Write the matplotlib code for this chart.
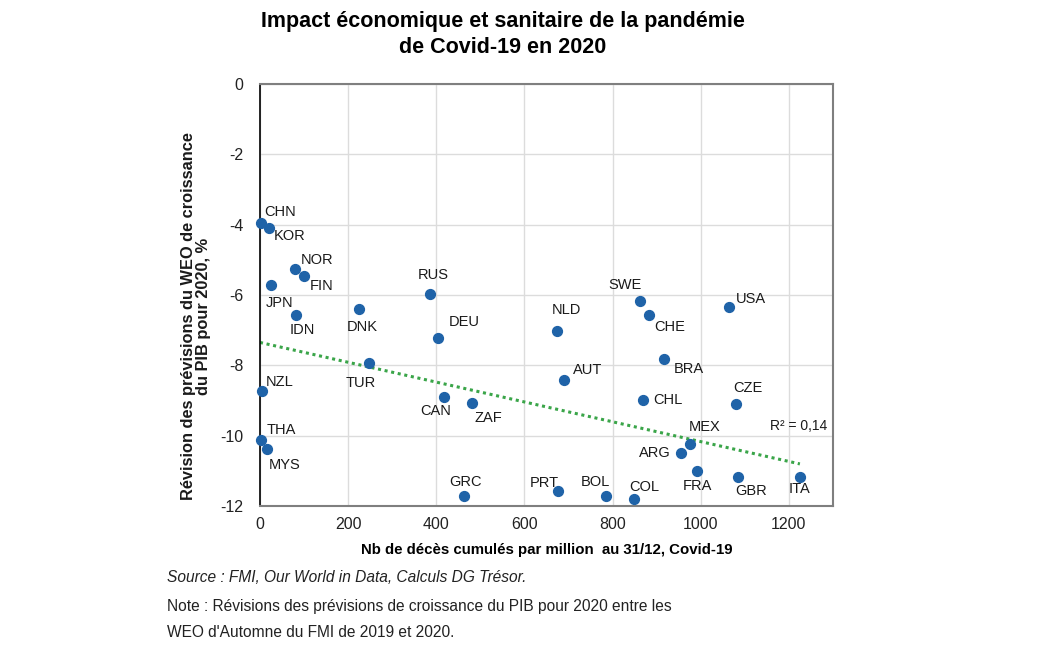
#!/usr/bin/env python3

import numpy
import matplotlib
from matplotlib import pyplot as plt

matplotlib.use('Agg')
plt.rcParams['font.family'] = ['Liberation Sans', 'DejaVu Sans']
plt.rcParams['axes.unicode_minus'] = False

countries = ['CHN', 'KOR', 'NOR', 'FIN', 'JPN', 'IDN', 'DNK', 'RUS', 'DEU', 'TUR',
             'NZL', 'CAN', 'ZAF', 'THA', 'MYS', 'GRC', 'SWE', 'CHE', 'USA', 'NLD',
             'BRA', 'AUT', 'CHL', 'CZE', 'MEX', 'ARG', 'FRA', 'GBR', 'ITA', 'PRT',
             'BOL', 'COL']
deaths_per_million = [3, 20, 80, 101, 26, 81, 225, 385, 403, 248,
                      5, 418, 480, 2, 15, 464, 863, 883, 1064, 673,
                      916, 690, 868, 1081, 975, 955, 992, 1085, 1225, 677,
                      785, 849]
gdp_revision = [-3.96, -4.10, -5.27, -5.45, -5.73, -6.57, -6.40, -5.97, -7.23, -7.94,
                -8.73, -8.90, -9.08, -10.12, -10.39, -11.71, -6.17, -6.56, -6.34, -7.02,
                -7.82, -8.41, -9.00, -9.10, -10.24, -10.48, -11.00, -11.19, -11.17, -11.57,
                -11.71, -11.80]
# linear trendline as drawn in the source chart
trend_intercept = -7.35
trend_slope = -0.00282
r2_text = 'R² = 0,14'

# label placement: offset in pixels (dx, dy up) and alignment
label_pos = {
    'CHN': (3, 11, 'left'), 'KOR': (5, -8, 'left'), 'NOR': (6, 9, 'left'),
    'FIN': (5, -10, 'left'), 'JPN': (-6, -18, 'left'), 'IDN': (-6, -15, 'left'),
    'DNK': (3, -18, 'center'), 'RUS': (4, 19, 'center'), 'DEU': (11, 16, 'left'),
    'TUR': (-9, -20, 'center'), 'NZL': (4, 9, 'left'), 'CAN': (-9, -14, 'center'),
    'ZAF': (3, -15, 'left'), 'THA': (6, 10, 'left'), 'MYS': (2, -16, 'left'),
    'GRC': (1, 14, 'center'), 'SWE': (-15, 16, 'center'), 'CHE': (5, -12, 'left'),
    'USA': (7, 8, 'left'), 'NLD': (10, 21, 'center'), 'BRA': (10, -10, 'left'),
    'AUT': (9, 10, 'left'), 'CHL': (11, 0, 'left'), 'CZE': (-3, 16, 'left'),
    'MEX': (-1, 17, 'left'), 'ARG': (-10, 0, 'right'), 'FRA': (0, -15, 'center'),
    'GBR': (13, -14, 'center'), 'ITA': (0, -12, 'center'), 'PRT': (-14, 8, 'center'),
    'BOL': (-11, 14, 'center'), 'COL': (10, 12, 'center'),
}

x = numpy.array(deaths_per_million, dtype=float)
y = numpy.array(gdp_revision, dtype=float)

fig = plt.figure(figsize=(10.5, 6.56), dpi=100)
ax = fig.add_axes([0.2476, 0.2287, 0.5457, 0.6433])

ax.set_xlim(0, 1300)
ax.set_ylim(-12, 0)
ax.set_xticks(range(0, 1201, 200))
ax.set_yticks(range(-12, 1, 2))
ax.grid(True, color='#dcdcdc', linewidth=1)
ax.set_axisbelow(True)
ax.tick_params(length=0, labelsize=11.5, colors='#222222')
ax.tick_params(axis='x', pad=8)
ax.tick_params(axis='y', pad=12)
for side in ['top', 'right', 'bottom']:
    ax.spines[side].set_color('#7f7f7f')
    ax.spines[side].set_linewidth(1.5)
ax.spines['left'].set_color('black')
ax.spines['left'].set_linewidth(1.2)

xs = numpy.array([0, x.max()])
ax.plot(xs, trend_intercept + trend_slope * xs, color='#3aa549', linestyle=(0, (1, 1.2)),
        linewidth=2.2, zorder=2)
ax.scatter(x, y, s=50, color='#1f63a8', zorder=3, clip_on=False)

for name, xv, yv in zip(countries, deaths_per_million, gdp_revision):
    dx, dy, ha = label_pos[name]
    ax.annotate(name, (xv, yv), xytext=(dx, dy), textcoords='offset pixels',
                ha=ha, va='center', fontsize=10.5, color='#1a1a1a')

ax.text(1158, -9.72, r2_text, fontsize=10, va='center', ha='left', color='#1a1a1a')

ax.set_xlabel('Nb de décès cumulés par million  au 31/12, Covid-19',
              fontsize=10.8, fontweight='bold', labelpad=8)

fig.text(0.187, 0.518, 'Révision des prévisions du WEO de croissance\ndu PIB pour 2020, %',
         rotation=90, ha='center', va='center', fontsize=11.8, fontweight='bold',
         multialignment='center', linespacing=1.0, color='#1a1a1a')

fig.text(0.479, 0.948, 'Impact économique et sanitaire de la pandémie\nde Covid-19 en 2020',
         ha='center', va='center', fontsize=15.5, fontweight='bold', linespacing=1.3)

fig.text(0.159, 0.119, 'Source : FMI, Our World in Data, Calculs DG Trésor.',
         ha='left', va='center', fontsize=11.2, style='italic', color='#222222')
fig.text(0.159, 0.076, 'Note : Révisions des prévisions de croissance du PIB pour 2020 entre les',
         ha='left', va='center', fontsize=11.2, color='#222222')
fig.text(0.159, 0.036, "WEO d'Automne du FMI de 2019 et 2020.",
         ha='left', va='center', fontsize=11.2, color='#222222')

fig.savefig('out.png', dpi=100, facecolor='white')
